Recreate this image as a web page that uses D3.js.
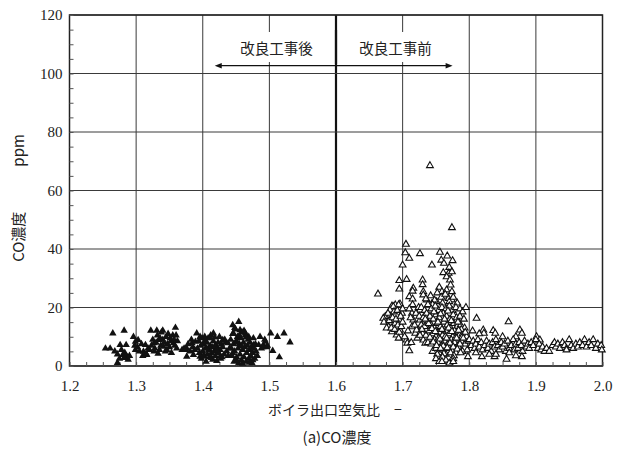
<!DOCTYPE html>
<meta charset="utf-8">
<style>
  body { margin: 0; background: #fff; }
  text { fill: #222; }
  .num text, text.num { font-family: "Liberation Serif", "Times New Roman", "DejaVu Serif", serif; }
</style>
<body>
<script src="https://d3js.org/d3.v7.min.js"></script>
<script>
  // 軸の目盛
  var xTicks = [1.2, 1.3, 1.4, 1.5, 1.6, 1.7, 1.8, 1.9, 2.0];
  var yTicks = [0, 20, 40, 60, 80, 100, 120];

  // 改良工事後 (黒三角) [空気比, CO ppm]
  var afterPoints = [
    [1.254,6.0],[1.261,6.0],[1.265,11.2],[1.272,1.1],[1.282,12.1],[1.276,7.2],[1.285,7.2],[1.280,3.8],
    [1.286,3.2],[1.268,5],[1.272,4],[1.278,5.5],[1.283,4.5],[1.275,2.5],[1.288,2.2],[1.29,3.5],[1.282,2.8],
    [1.296,10],[1.299,8.3],[1.303,8.9],[1.299,5.5],[1.311,4.9],[1.314,7.2],[1.316,3.8],
    [1.302,6.5],[1.305,5],[1.31,3.5],[1.318,6],[1.32,5.5],[1.308,7.5],[1.315,4.2],[1.298,7],
    [1.322,12.1],[1.331,12.1],[1.340,12.1],[1.327,7.8],[1.334,8.9],[1.341,6.6],[1.346,5.5],[1.351,9.5],
    [1.359,13.1],[1.356,7.8],[1.361,6.0],
    [1.325,9],[1.328,6],[1.33,8],[1.332,10.5],[1.335,5.5],[1.337,7],[1.338,11.5],[1.34,9],[1.342,8],
    [1.344,5],[1.345,10],[1.347,7.5],[1.35,6.5],[1.352,8.5],[1.353,4.5],[1.355,10.5],[1.357,9],[1.358,7],
    [1.36,10.5],[1.362,8.5],[1.323,7],[1.327,5],[1.333,4.2],[1.348,11],[1.336,9.5],
    [1.369,5.5],[1.376,3.2],[1.376,6.0],[1.384,7.8],[1.389,8.3],[1.391,11.2],[1.396,10],
    [1.372,6],[1.374,5.5],[1.378,7.5],[1.381,5],[1.385,6.5],[1.388,5.5],[1.383,9],[1.386,3.8],
    [1.392,6],[1.394,8.5],[1.395,4.5],[1.397,7],[1.398,2.5],[1.399,9.5],[1.40,5],[1.401,7.5],[1.402,3.5],
    [1.403,10],[1.404,6],[1.405,1.5],[1.406,8],[1.407,4],[1.408,9.5],[1.409,5.5],[1.41,3],[1.411,7],
    [1.412,10.5],[1.413,4.5],[1.414,6.5],[1.415,2.2],[1.416,8.5],[1.417,5],[1.418,9.8],[1.419,3.5],
    [1.42,7],[1.421,1.8],[1.422,6],[1.423,8],[1.424,4.5],[1.425,10],[1.426,5.5],[1.428,7.5],[1.429,3],
    [1.43,6.5],[1.432,4],[1.434,8],[1.436,5],[1.438,3.5],[1.44,6],[1.396,3.2],[1.404,8.8],[1.413,2.8],
    [1.418,6.8],[1.427,2.5],[1.433,9],[1.401,3.2],[1.406,6],[1.411,9.5],[1.416,11.2],[1.421,5.5],
    [1.426,3.2],[1.430,8.9],[1.438,7.8],
    [1.445,14],[1.454,15.1],[1.446,11.2],[1.456,12.3],[1.464,11.2],[1.469,10],[1.476,7.2],[1.475,2],
    [1.442,9],[1.443,6],[1.444,3.5],[1.445,11],[1.446,7.5],[1.447,1.5],[1.448,5],[1.449,12.5],[1.45,8.5],
    [1.451,3],[1.452,10],[1.453,6],[1.454,1],[1.455,7.5],[1.456,4],[1.457,9.5],[1.458,2],[1.459,11.5],
    [1.46,5.5],[1.461,8],[1.462,3],[1.463,6.5],[1.464,10.5],[1.465,1.5],[1.466,4.5],[1.467,7],[1.468,9],
    [1.469,2.5],[1.47,5.5],[1.471,8],[1.472,3.5],[1.473,6.5],[1.474,1],[1.475,4.5],[1.476,9.5],[1.477,6],
    [1.478,2.5],[1.479,7.5],[1.48,5],[1.482,3.5],[1.445,4.5],[1.45,2],[1.455,10.5],[1.46,0.8],[1.465,9.8],
    [1.47,1.2],[1.458,6.8],[1.452,8],[1.448,13],[1.462,12],
    [1.484,7.2],[1.486,10],[1.491,7.2],[1.494,8.3],[1.488,6],[1.49,6.5],[1.496,6.5],[1.493,9],[1.497,7],
    [1.502,11.2],[1.505,5.2],[1.512,10],[1.515,3],[1.522,11.2],[1.531,8.1]
  ];

  // 改良工事前 (白三角) [空気比, CO ppm]
  var beforePoints = [
    // 左の塊 1.66〜1.70
    [1.663,24.6],[1.684,20.5],[1.689,20.9],[1.696,21.2],[1.674,16.9],[1.681,17.4],[1.686,20.3],[1.694,20.9],
    [1.689,14.6],[1.679,13.4],[1.684,11.7],[1.696,12.3],[1.691,10.6],[1.695,15.7],[1.671,16.3],[1.699,18.0],
    [1.681,19.1],[1.672,15],[1.676,13],[1.678,18],[1.68,15.5],[1.683,13],[1.685,16.5],[1.687,18.5],
    [1.688,12.5],[1.69,16],[1.692,19],[1.693,14],[1.695,11.5],[1.697,17],[1.698,13.5],[1.7,19.5],
    [1.694,9.5],[1.7,15],[1.695,29.2],[1.695,26.3],
    // 1.70〜1.73
    [1.705,41.6],[1.704,38.7],[1.71,36.8],[1.726,38.4],[1.70,34.5],[1.706,29.6],[1.716,26.6],[1.715,25.6],
    [1.71,23.7],[1.715,22.9],[1.730,29.4],[1.730,27.8],[1.731,25.4],[1.731,24.3],[1.736,22.6],
    [1.706,8.9],[1.707,7.8],[1.71,5.2],[1.714,18],[1.716,15.7],[1.714,13.4],[1.719,11.2],[1.721,12.3],
    [1.726,19.1],[1.726,15.7],[1.729,13.4],[1.731,8.9],[1.734,7.8],[1.703,10],[1.708,12],[1.712,16.5],
    [1.715,21],[1.718,14],[1.72,18],[1.722,9.5],[1.724,20],[1.713,8],[1.71,19.5],
    // 高い値
    [1.741,68.5],[1.774,47.3],[1.756,38.9],[1.767,37.6],[1.744,34.5],[1.775,36],[1.758,36.2],[1.762,35.1],
    [1.77,33.7],[1.761,31.9],[1.769,31.7],[1.774,32.2],[1.766,30.5],[1.771,29.4],[1.755,26.9],[1.759,25.4],
    [1.766,26],[1.772,27.7],[1.774,25.4],[1.762,23.9],[1.769,23.1],[1.774,22.6],[1.744,21.4],[1.751,22],
    // 主な塊 1.72〜1.80
    [1.735,23],[1.742,24],[1.748,22.5],[1.752,25],[1.758,23.5],[1.764,24.5],[1.77,22],[1.776,23.5],
    [1.782,21.5],[1.745,21],[1.76,21.5],
    [1.728,20],[1.733,19],[1.738,21],[1.743,19.5],[1.749,20.5],[1.754,19],[1.759,20],[1.765,19.5],
    [1.77,20.5],[1.775,19],[1.78,20],[1.786,19.5],[1.79,18.5],
    [1.725,17],[1.731,16.5],[1.736,18],[1.741,17],[1.746,16],[1.75,17.5],[1.755,16.5],[1.761,18],
    [1.766,17],[1.771,16],[1.776,17.5],[1.781,16.5],[1.786,17],[1.792,16],
    [1.728,14],[1.733,13.5],[1.738,15],[1.743,14],[1.748,13],[1.752,14.5],[1.757,13.5],[1.762,15],
    [1.767,14],[1.772,13],[1.777,14.5],[1.782,13.5],[1.787,14],[1.793,13],
    [1.73,11],[1.735,10.5],[1.74,12],[1.745,11],[1.75,10],[1.755,11.5],[1.76,10.5],[1.765,12],
    [1.77,11],[1.775,10],[1.78,11.5],[1.785,10.5],[1.79,11],[1.796,10],
    [1.738,8],[1.743,7.5],[1.748,9],[1.753,8],[1.758,7],[1.763,8.5],[1.768,7.5],[1.773,9],
    [1.778,8],[1.783,7],[1.788,8.5],[1.794,7.5],[1.799,8.5],
    [1.745,5],[1.75,6],[1.755,4.5],[1.76,5.5],[1.765,4],[1.77,6],[1.775,5],[1.78,4.5],[1.785,6],
    [1.79,5],[1.797,5.5],
    [1.747,18.5],[1.753,15],[1.757,17.8],[1.763,16],[1.768,18.8],[1.773,15.5],[1.778,12],[1.783,15],
    [1.788,12.5],[1.744,12.8],[1.749,11.8],[1.754,9.5],[1.759,12.5],[1.764,10],[1.769,13],[1.774,11.8],
    [1.779,9.5],[1.784,12.2],[1.789,9.8],[1.794,11.5],[1.741,9.8],[1.746,8.2],[1.751,7],[1.756,9.2],
    [1.761,6.8],[1.766,9.5],[1.771,7.8],[1.776,6.5],[1.781,9.5],[1.786,7.5],[1.791,9.5],[1.752,4],
    [1.757,6],[1.762,4.2],[1.767,6.2],[1.772,4.5],[1.777,3.5],[1.782,5.8],[1.787,4.5],[1.739,14.5],
    [1.734,16],[1.729,12.5],[1.726,10.5],
    [1.75,2.5],[1.755,1.5],[1.76,3],[1.765,2],[1.77,1],[1.776,2.5],[1.759,1.5],[1.776,1.5],[1.798,3.2],
    // 右の裾 1.80〜2.0
    [1.795,20],[1.811,16.3],[1.859,15.1],[1.821,12.3],[1.822,11.2],[1.836,12.1],[1.839,11.2],[1.876,12.3],
    [1.879,11.2],[1.901,10],[1.906,8.9],[1.815,11],[1.805,12],[1.85,10],[1.87,10],
    [1.80,9],[1.803,7],[1.806,8.5],[1.808,6],[1.81,7.5],[1.813,9],[1.815,6.5],[1.818,8],[1.82,5.5],
    [1.823,7],[1.826,8.5],[1.828,6],[1.83,7.5],[1.833,5],[1.835,8],[1.838,6.5],[1.84,9],[1.843,7],
    [1.845,5.5],[1.848,8],[1.85,6.5],[1.853,7.5],[1.855,5],[1.858,8.5],[1.86,6],[1.863,7],[1.866,9],
    [1.868,5.5],[1.87,7.5],[1.873,6],[1.875,8],[1.878,7],[1.88,5],[1.883,8.5],[1.886,6.5],[1.888,7.5],
    [1.89,6],[1.893,8],[1.896,7],[1.9,9],[1.903,6],[1.905,7.5],[1.908,5.5],[1.91,6.5],[1.913,5],
    [1.916,6],[1.92,5],[1.925,7],[1.928,8],[1.93,6.5],[1.933,7.5],[1.936,6],[1.94,8],[1.943,7],
    [1.946,6],[1.946,5.5],[1.95,9],[1.953,7],[1.956,6],[1.96,7.5],[1.963,6.5],[1.966,8],[1.97,7],
    [1.973,9],[1.976,6.5],[1.98,8],[1.983,7],[1.986,9],[1.99,6],[1.993,7.5],[1.998,7],[1.999,5.5],
    [1.819,3.2],[1.838,3.2],[1.856,2.3],[1.879,3.2],[1.84,4],[1.86,4.5],[1.87,3.5],[1.81,4.5],[1.83,4]
  ];

  var svg = d3.select("body").append("svg")
          .attr("width", 625)
          .attr("height", 450);

  var serif = "'Liberation Serif', 'Times New Roman', 'DejaVu Serif', serif";
  var jp = "'Noto Sans CJK JP', sans-serif";

  var x = d3.scaleLinear().domain([1.2, 2.0]).range([69.5, 602.5]);
  var y = d3.scaleLinear().domain([0, 120]).range([366, 15]);

  // グリッド
  var grid = svg.append("g").attr("stroke", "#3a3a3a").attr("stroke-width", 1);
  grid.selectAll(".vx").data(xTicks).enter().append("line")
          .attr("x1", function(d) { return x(d); }).attr("x2", function(d) { return x(d); })
          .attr("y1", y(0)).attr("y2", y(120))
          .attr("stroke-width", function(d) { return d === 1.6 ? 2.2 : 1; })
          .attr("stroke", function(d) { return d === 1.6 ? "#111" : "#3a3a3a"; });
  grid.selectAll(".hy").data(yTicks).enter().append("line")
          .attr("x1", x(1.2)).attr("x2", x(2.0))
          .attr("y1", function(d) { return y(d); }).attr("y2", function(d) { return y(d); });

  // 枠
  svg.append("rect")
          .attr("x", x(1.2)).attr("y", y(120))
          .attr("width", x(2.0) - x(1.2)).attr("height", y(0) - y(120))
          .attr("fill", "none").attr("stroke", "#222").attr("stroke-width", 1.5);

  // 補助目盛 (内向き)
  var xMinor = d3.range(0, 33).map(function(i) { return 1.2 + i * 0.025; });
  var yMinor = d3.range(0, 25).map(function(i) { return i * 5; });
  svg.append("g")
          .attr("transform", "translate(0," + y(0) + ")")
          .call(d3.axisBottom(x).tickValues(xMinor).tickSizeInner(-4).tickSizeOuter(0).tickFormat(""))
          .call(function(g) { g.select(".domain").remove(); g.selectAll("line").attr("stroke", "#555"); });
  svg.append("g")
          .attr("transform", "translate(" + x(1.2) + ",0)")
          .call(d3.axisLeft(y).tickValues(yMinor).tickSizeInner(-4).tickSizeOuter(0).tickFormat(""))
          .call(function(g) { g.select(".domain").remove(); g.selectAll("line").attr("stroke", "#555"); });

  // 目盛ラベル
  function styleLabels(g) {
    g.select(".domain").remove();
    g.attr("font-family", null).attr("font-size", null);
    g.selectAll("text")
            .style("font-family", serif)
            .style("font-size", "15px")
            .style("fill", "#222");
  }
  svg.append("g").attr("class", "num")
          .attr("transform", "translate(0," + y(0) + ")")
          .call(d3.axisBottom(x).tickValues(xTicks).tickSize(0).tickPadding(14).tickFormat(d3.format(".1f")))
          .call(styleLabels);
  svg.append("g").attr("class", "num")
          .attr("transform", "translate(" + x(1.2) + ",0)")
          .call(d3.axisLeft(y).tickValues(yTicks).tickSize(0).tickPadding(7))
          .call(styleLabels);

  // 点
  var tri = d3.symbol().type(d3.symbolTriangle);
  svg.append("g").selectAll("path").data(afterPoints).enter().append("path")
          .attr("d", tri.size(24))
          .attr("transform", function(d) { return "translate(" + x(d[0]) + "," + y(d[1]) + ")"; })
          .attr("fill", "#111");
  svg.append("g").selectAll("path").data(beforePoints).enter().append("path")
          .attr("d", tri.size(20))
          .attr("transform", function(d) { return "translate(" + x(d[0]) + "," + y(d[1]) + ")"; })
          .attr("fill", "#fff").attr("stroke", "#111").attr("stroke-width", 1.1);

  // 注記 (白地で格子を隠す)
  var notes = [
    {label: "改良工事後", cx: 276.5},
    {label: "改良工事前", cx: 395.5}
  ];
  svg.selectAll(".nb").data(notes).enter().append("rect")
          .attr("x", function(d) { return d.cx - 40; }).attr("y", 32)
          .attr("width", 80).attr("height", 30)
          .attr("fill", "#fff");
  svg.append("line")
          .attr("x1", x(1.6)).attr("x2", x(1.6)).attr("y1", 30).attr("y2", 64)
          .attr("stroke", "#111").attr("stroke-width", 2.2);
  svg.selectAll(".nt").data(notes).enter().append("text")
          .attr("x", function(d) { return d.cx; }).attr("y", 54)
          .attr("text-anchor", "middle")
          .attr("font-family", jp).attr("font-size", 14.5)
          .text(function(d) { return d.label; });

  // 矢印
  var arrowY = 65.7;
  svg.append("line")
          .attr("x1", x(1.418) + 5).attr("x2", x(1.775) - 5)
          .attr("y1", arrowY).attr("y2", arrowY)
          .attr("stroke", "#111").attr("stroke-width", 1.2);
  svg.append("path")
          .attr("d", "M" + x(1.418) + "," + arrowY + "l7,-2.8l0,5.6z")
          .attr("fill", "#111");
  svg.append("path")
          .attr("d", "M" + x(1.775) + "," + arrowY + "l-7,-2.8l0,5.6z")
          .attr("fill", "#111");

  // 軸タイトル
  svg.append("text")
          .attr("transform", "translate(24,198) rotate(-90)")
          .attr("text-anchor", "middle")
          .attr("font-family", jp).attr("font-size", 15)
          .text("CO濃度　　　ppm");
  svg.append("text")
          .attr("x", 268).attr("y", 415)
          .attr("font-family", jp).attr("font-size", 14)
          .text("ボイラ出口空気比　−");
  svg.append("text")
          .attr("x", 337).attr("y", 443)
          .attr("text-anchor", "middle")
          .attr("font-family", jp).attr("font-size", 15)
          .text("(a)CO濃度");
</script>
</body>
